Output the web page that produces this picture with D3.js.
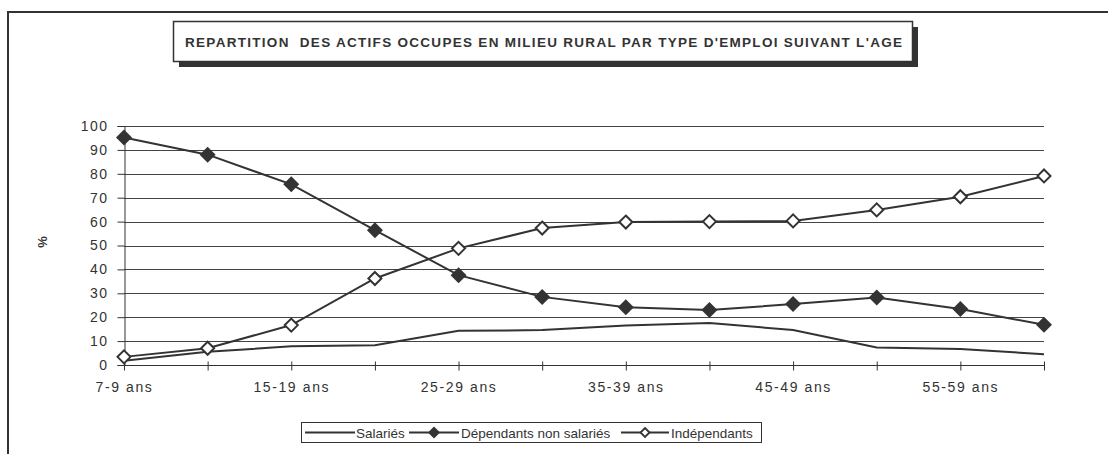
<!DOCTYPE html>
<html>
<head>
<meta charset="utf-8">
<script src="https://cdn.jsdelivr.net/npm/d3@7"></script>
<style>
  body { margin: 0; background: #fff; }
  svg { display: block; font-family: "Liberation Sans", Arial, sans-serif; }
</style>
</head>
<body>
<svg class="chart" width="1108" height="454"></svg>
<script>
// data
const ages = ["7-9 ans","10-14 ans","15-19 ans","20-24 ans","25-29 ans","30-34 ans",
              "35-39 ans","40-44 ans","45-49 ans","50-54 ans","55-59 ans","60 ans et +"]
const salaries =     [1.8, 5.5, 7.8, 8.3, 14.3, 14.6, 16.5, 17.6, 14.6, 7.3, 6.7, 4.5]
const dependants =   [95.2, 88.0, 75.6, 56.4, 37.6, 28.5, 24.2, 23.0, 25.5, 28.2, 23.4, 16.8]
const independants = [3.4, 7.0, 16.7, 36.2, 48.8, 57.3, 59.8, 60.0, 60.3, 64.9, 70.4, 79.1]
const yTicks = [0,10,20,30,40,50,60,70,80,90,100]
const shownLabels = ["7-9 ans","15-19 ans","25-29 ans","35-39 ans","45-49 ans","55-59 ans"]
const titre = "REPARTITION  DES ACTIFS OCCUPES EN MILIEU RURAL PAR TYPE D'EMPLOI SUIVANT L'AGE"

const ink = '#333'
const svg = d3.select('.chart')

const x = d3.scalePoint(ages, [124, 1044])
const y = d3.scaleLinear([0, 100], [365, 126])

// FRAME
svg.append('rect')
    .attr('x', 8).attr('y', 12)
    .attr('width', 1120).attr('height', 460)
    .attr('fill', 'none').attr('stroke', ink).attr('stroke-width', 2)

// TITLE BOX
svg.append('rect')
    .attr('x', 179).attr('y', 27).attr('width', 739).attr('height', 40)
    .attr('fill', ink)
svg.append('rect')
    .attr('x', 173.5).attr('y', 21.5).attr('width', 739).attr('height', 40)
    .attr('fill', '#fff').attr('stroke', ink).attr('stroke-width', 1.5)
svg.append('text')
    .text(titre)
    .attr('x', 185).attr('y', 47)
    .attr('textLength', 717)
    .attr('font-size', '13.5px').attr('font-weight', 'bold')
    .attr('fill', ink)
    .style('white-space', 'pre')

// GRID
svg.append('g')
    .selectAll('line')
    .data(yTicks.filter(d => d > 0))
    .join('line')
    .attr('x1', 124).attr('x2', 1044)
    .attr('y1', d => Math.round(y(d)) + 0.5).attr('y2', d => Math.round(y(d)) + 0.5)
    .attr('stroke', '#444')

// Y AXIS
const yAxis = svg.append('g')
    .attr('transform', 'translate(124.5,0)')
    .call(d3.axisLeft(y).tickValues(yTicks).tickSize(7).tickPadding(9))
yAxis.select('.domain').attr('stroke', ink)
yAxis.selectAll('.tick line').attr('stroke', ink)
yAxis.selectAll('.tick text')
    .attr('fill', ink).attr('font-size', '14px')
    .style('letter-spacing', '1.5px')
    .attr('font-family', '"Liberation Sans", Arial, sans-serif')

// X AXIS
const xAxis = svg.append('g')
    .attr('transform', 'translate(0,365.5)')
    .call(d3.axisBottom(x).tickSize(5).tickPadding(12)
        .tickFormat(d => shownLabels.includes(d) ? d : ''))
xAxis.select('.domain').attr('stroke', ink).attr('d', 'M124,0H1044')
xAxis.selectAll('.tick line').attr('y1', -4).attr('y2', 5).attr('stroke', ink)
xAxis.selectAll('.tick text')
    .attr('fill', ink).attr('font-size', '14px')
    .style('letter-spacing', '1.6px')
    .attr('font-family', '"Liberation Sans", Arial, sans-serif')

// % LABEL
svg.append('text')
    .text('%')
    .attr('text-anchor', 'middle')
    .attr('transform', 'translate(47, 242) rotate(-90)')
    .attr('font-size', '13px').attr('font-weight', 'bold')
    .attr('fill', ink)

// LINES
const line = d3.line((d, i) => x(ages[i]), d => y(d))
const series = [
    {name: 'Salariés', values: salaries},
    {name: 'Dépendants non salariés', values: dependants},
    {name: 'Indépendants', values: independants}
]

svg.append('g')
    .selectAll('path')
    .data(series)
    .join('path')
    .attr('d', d => line(d.values))
    .attr('fill', 'none')
    .attr('stroke', ink)
    .attr('stroke-width', 2)

const filledDiamond = 'M0,-8L8,0L0,8L-8,0Z'
const openDiamond = 'M0,-6.5L6.5,0L0,6.5L-6.5,0Z'

svg.append('g')
    .selectAll('path')
    .data(dependants)
    .join('path')
    .attr('d', filledDiamond)
    .attr('transform', (d, i) => `translate(${x(ages[i])},${y(d)})`)
    .attr('fill', ink)

svg.append('g')
    .selectAll('path')
    .data(independants)
    .join('path')
    .attr('d', openDiamond)
    .attr('transform', (d, i) => `translate(${x(ages[i])},${y(d)})`)
    .attr('fill', '#fff')
    .attr('stroke', ink)
    .attr('stroke-width', 2)

// LEGEND
const legend = svg.append('g')
legend.append('rect')
    .attr('x', 301.5).attr('y', 422.5).attr('width', 460).attr('height', 20)
    .attr('fill', '#fff').attr('stroke', ink)

const legendItems = [
    {name: 'Salariés', x0: 305, x1: 355, tx: 356, marker: null},
    {name: 'Dépendants non salariés', x0: 409, x1: 459, tx: 461, marker: 'filled'},
    {name: 'Indépendants', x0: 621, x1: 669, tx: 671, marker: 'open'}
]
const li = legend.selectAll('g.item')
    .data(legendItems)
    .join('g')
    .attr('class', 'item')
li.append('line')
    .attr('x1', d => d.x0).attr('x2', d => d.x1)
    .attr('y1', 432.5).attr('y2', 432.5)
    .attr('stroke', ink).attr('stroke-width', 2)
li.filter(d => d.marker)
    .append('path')
    .attr('d', d => d.marker === 'filled' ? 'M0,-6L6,0L0,6L-6,0Z' : 'M0,-4.5L4.5,0L0,4.5L-4.5,0Z')
    .attr('transform', d => `translate(${(d.x0 + d.x1) / 2},432.5)`)
    .attr('fill', d => d.marker === 'filled' ? ink : '#fff')
    .attr('stroke', ink)
    .attr('stroke-width', d => d.marker === 'filled' ? 0 : 1.8)
li.append('text')
    .text(d => d.name)
    .attr('x', d => d.tx).attr('y', 437.5)
    .attr('font-size', '13.5px')
    .attr('fill', ink)
</script>
</body>
</html>
